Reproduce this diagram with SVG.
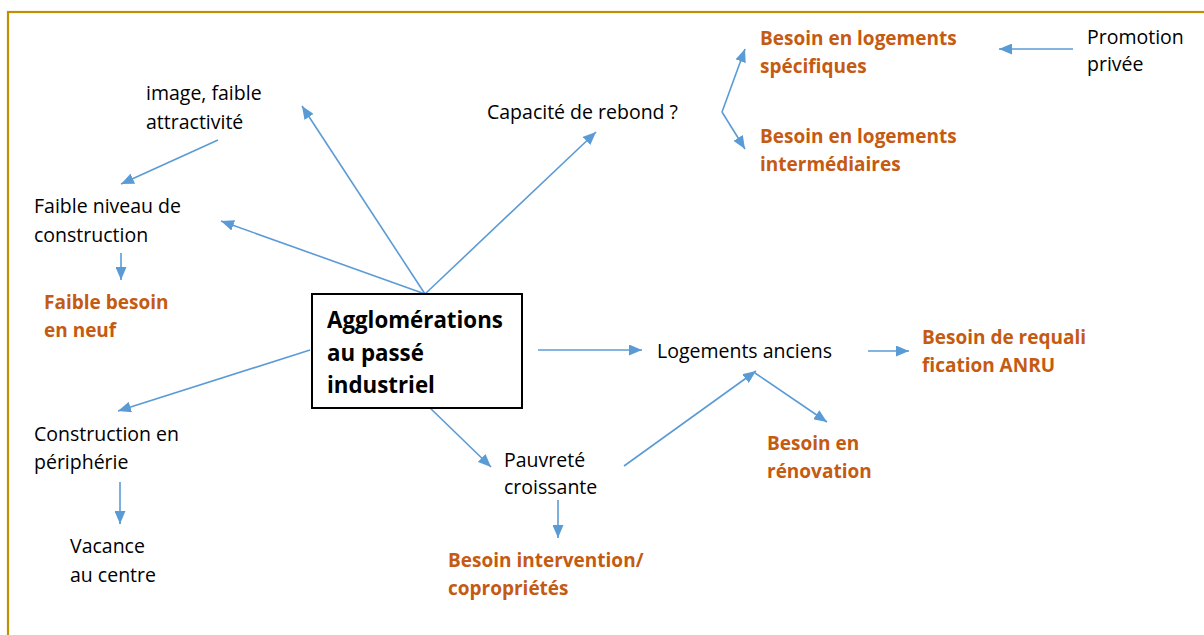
<svg xmlns="http://www.w3.org/2000/svg" width="1204" height="635" viewBox="0 0 1204 635">
<style>
.t{font-family:"Open Sans","Liberation Sans",sans-serif;font-size:19.5px;fill:#000}
.o{font-family:"Open Sans","Liberation Sans",sans-serif;font-size:19px;font-weight:bold;fill:#c55a11}
.c{font-family:"Open Sans","Liberation Sans",sans-serif;font-size:22.3px;font-weight:bold;fill:#000}
.a{stroke:#5b9bd5;stroke-width:1.6;fill:none;marker-end:url(#ah)}
</style>
<defs>
<marker id="ah" markerUnits="userSpaceOnUse" markerWidth="13" markerHeight="11" refX="13" refY="5.5" orient="auto">
<path d="M0,0 L13,5.5 L0,11 z" fill="#5b9bd5"/>
</marker>
</defs>
<rect x="0" y="0" width="1204" height="635" fill="#fff"/>
<rect x="8" y="12" width="1220" height="650" fill="none" stroke="#bf9000" stroke-width="2.2"/>

<g id="connectors">
<line class="a" x1="425" y1="294" x2="302" y2="106"/>
<line class="a" x1="425" y1="294" x2="221" y2="221"/>
<line class="a" x1="425" y1="294" x2="596" y2="132"/>
<line class="a" x1="218" y1="140" x2="121" y2="184"/>
<line class="a" x1="121" y1="253" x2="121" y2="280"/>
<line class="a" x1="310" y1="350" x2="118" y2="411"/>
<line class="a" x1="120" y1="482" x2="120" y2="524"/>
<line class="a" x1="428" y1="406" x2="491" y2="467"/>
<line class="a" x1="538" y1="350" x2="642" y2="350"/>
<line class="a" x1="624" y1="466" x2="756" y2="371"/>
<line class="a" x1="755" y1="373" x2="827" y2="422"/>
<line class="a" x1="868" y1="351" x2="909" y2="351"/>
<line class="a" x1="558" y1="500" x2="558" y2="538"/>
<polyline class="a" points="722,112 745,49" />
<polyline class="a" points="722,112 745,149" />
<line class="a" x1="1073" y1="49" x2="999" y2="49"/>
</g>

<g id="center">
<rect x="312" y="294" width="210" height="114" fill="#fff" stroke="#000" stroke-width="2"/>
<text class="c" x="327" y="328">Agglomérations</text>
<text class="c" x="327" y="361">au passé</text>
<text class="c" x="327" y="393">industriel</text>
</g>

<g id="image">
<text class="t" x="146" y="100">image, faible</text>
<text class="t" x="146" y="129">attractivité</text>
</g>
<g id="faible-niveau">
<text class="t" x="34" y="213">Faible niveau de</text>
<text class="t" x="34" y="242">construction</text>
</g>
<g id="faible-besoin">
<text class="o" x="44" y="309">Faible besoin</text>
<text class="o" x="44" y="337">en neuf</text>
</g>
<g id="capacite">
<text class="t" x="487" y="119">Capacité de rebond ?</text>
</g>
<g id="besoin-specifiques">
<text class="o" x="760" y="45">Besoin en logements</text>
<text class="o" x="760" y="73">spécifiques</text>
</g>
<g id="besoin-intermediaires">
<text class="o" x="760" y="143">Besoin en logements</text>
<text class="o" x="760" y="171">intermédiaires</text>
</g>
<g id="promotion">
<text class="t" x="1087" y="44">Promotion</text>
<text class="t" x="1087" y="71">privée</text>
</g>
<g id="logements-anciens">
<text class="t" x="657" y="358">Logements anciens</text>
</g>
<g id="requalification">
<text class="o" x="922" y="344">Besoin de requali</text>
<text class="o" x="922" y="372">fication ANRU</text>
</g>
<g id="construction-peripherie">
<text class="t" x="34" y="441">Construction en</text>
<text class="t" x="34" y="469">périphérie</text>
</g>
<g id="vacance">
<text class="t" x="70" y="553">Vacance</text>
<text class="t" x="70" y="582">au centre</text>
</g>
<g id="pauvrete">
<text class="t" x="504" y="467">Pauvreté</text>
<text class="t" x="504" y="494">croissante</text>
</g>
<g id="renovation">
<text class="o" x="767" y="450">Besoin en</text>
<text class="o" x="767" y="478">rénovation</text>
</g>
<g id="intervention">
<text class="o" x="448" y="567">Besoin intervention/</text>
<text class="o" x="448" y="595">copropriétés</text>
</g>
</svg>
